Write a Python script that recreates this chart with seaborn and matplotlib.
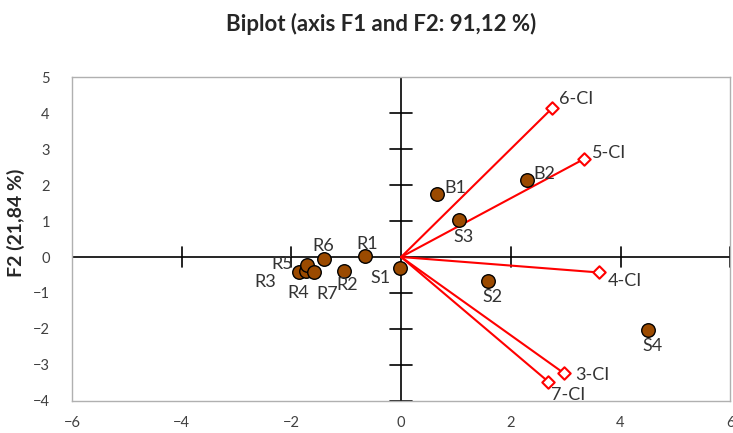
import matplotlib
matplotlib.use("Agg")
import matplotlib.pyplot as plt
import seaborn as sns
import pandas as pd

sns.set_theme(style="white")
plt.rcParams['font.family'] = ['Lato', 'DejaVu Sans']

# observations (F1, F2)
obs_names = ["R1", "R2", "R3", "R4", "R5", "R6", "R7", "S1", "S2", "S3", "S4", "B1", "B2"]
obs_f1 = [-0.66, -1.05, -1.86, -1.74, -1.71, -1.41, -1.59, -0.02, 1.58, 1.05, 4.50, 0.66, 2.29]
obs_f2 = [0.03, -0.38, -0.42, -0.40, -0.23, -0.06, -0.42, -0.31, -0.66, 1.03, -2.03, 1.74, 2.14]

# variables (loadings, scaled)
var_names = ["6-CI", "5-CI", "4-CI", "3-CI", "7-CI"]
var_f1 = [2.75, 3.33, 3.61, 2.97, 2.68]
var_f2 = [4.13, 2.72, -0.43, -3.23, -3.46]

xticks = [-6, -4, -2, 0, 2, 4, 6]
yticks = [-4, -3, -2, -1, 0, 1, 2, 3, 4, 5]

# label offsets in points
obs_off = {"R1": (-6, 5), "R2": (-5, -14), "R3": (-32, -11), "R4": (-13, -19),
           "R5": (-26, -3), "R6": (-8, 6), "R7": (2, -19), "S1": (-21, -11),
           "S2": (-4, -15), "S3": (-4, -16), "S4": (-4, -15), "B1": (5, 1), "B2": (5, 1)}
var_off = {"6-CI": (5, 3), "5-CI": (6, 1), "4-CI": (6, -10), "3-CI": (8, -5), "7-CI": (2, -13)}

df_obs = pd.DataFrame({"F1": obs_f1, "F2": obs_f2, "name": obs_names})
df_var = pd.DataFrame({"F1": var_f1, "F2": var_f2, "name": var_names})

fig = plt.figure(figsize=(7.33, 4.33), dpi=100)
ax = fig.add_axes([0.0982, 0.074, 0.898, 0.748])

# axes through origin with cross ticks
ax.axhline(0, color="black", lw=1.2, zorder=1)
ax.axvline(0, color="black", lw=1.2, zorder=1)
for x in xticks:
    if x != 0:
        ax.plot([x, x], [-0.27, 0.27], color="black", lw=1.2, zorder=1)
for y in yticks:
    if y != 0:
        ax.plot([-0.2, 0.2], [y, y], color="black", lw=1.2, zorder=1)

# vectors
for fx, fy in zip(var_f1, var_f2):
    ax.plot([0, fx], [0, fy], color="red", lw=1.5, zorder=2)
sns.scatterplot(data=df_var, x="F1", y="F2", ax=ax, marker="D", s=40,
                facecolor="white", edgecolor="red", linewidth=1.5, zorder=3)

sns.scatterplot(data=df_obs, x="F1", y="F2", ax=ax, s=95, color="#9b4a00",
                edgecolor="black", linewidth=1.0, zorder=4)

for n, fx, fy in zip(obs_names, obs_f1, obs_f2):
    ax.annotate(n, (fx, fy), xytext=obs_off[n], textcoords="offset points",
                fontsize=13, color="#333333", zorder=5)
for n, fx, fy in zip(var_names, var_f1, var_f2):
    ax.annotate(n, (fx, fy), xytext=var_off[n], textcoords="offset points",
                fontsize=13, color="#333333", zorder=5)

ax.set_xlim(-6, 6)
ax.set_ylim(-4, 5)
ax.set_xticks(xticks)
ax.set_yticks(yticks)
ax.tick_params(axis="both", length=0, labelsize=10.5, colors="#404040", pad=11)
ax.tick_params(axis="y", pad=16)
ax.set_xlabel("")
ax.set_ylabel("F2 (21,84 %)", fontsize=14, fontweight="bold")
ax.yaxis.set_label_coords(-0.072, 0.55)
for sp in ax.spines.values():
    sp.set_color("#b0b0b0")
    sp.set_linewidth(1.0)

fig.text(0.52, 0.945, "Biplot (axis F1 and F2: 91,12 %)", ha="center",
         va="center", fontsize=16, fontweight="bold")

fig.savefig("out.png", dpi=100)
